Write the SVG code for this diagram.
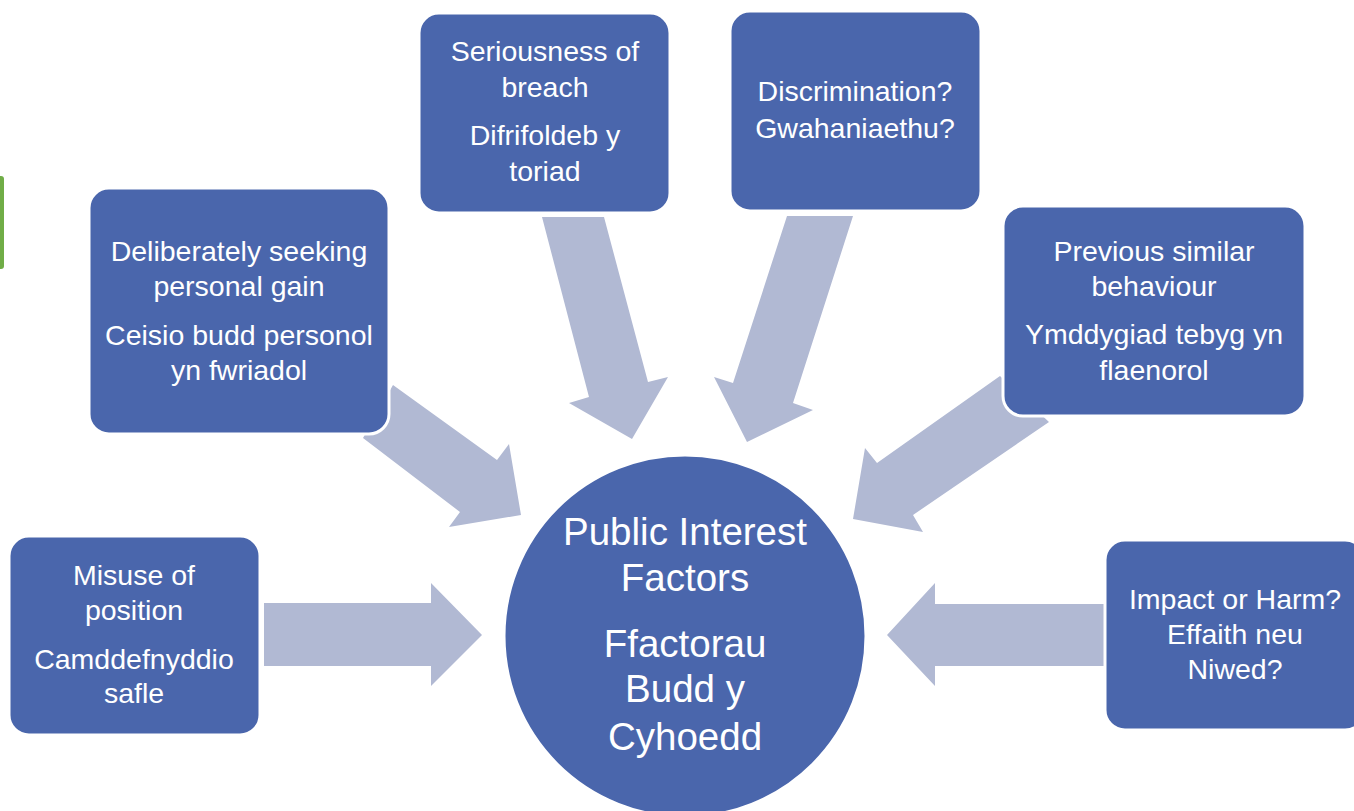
<svg xmlns="http://www.w3.org/2000/svg" width="1354" height="811" viewBox="0 0 1354 811">
<style>
.box{fill:#4a66ac;stroke:#ffffff;stroke-width:3}
.arr{fill:#b1b9d3}
text{font-family:"Liberation Sans",Arial,sans-serif;fill:#ffffff;text-anchor:middle}
.t{font-size:28.5px}
.c{font-size:38.5px}
</style>
<rect width="1354" height="811" fill="#ffffff"/>
<rect x="-6" y="176" width="10" height="93" rx="3" fill="#70ad47"/>
<g id="connectors">
<polygon class="arr" points="264,603 431,603 431,583 482,635 431,686 431,666 264,666"/>
<polygon class="arr" points="1110,604 935,604 935,583 887,635 935,686 935,666 1110,666"/>
<polygon class="arr" points="393,385 497,460 509,444 521,515 449,527 460,512 363,438"/>
<polygon class="arr" points="542,217 604,217 648,382 668,377 632,439 569,403 589,397"/>
<polygon class="arr" points="787,216 853,216 793,403 813,410 747,442 714,377 733,383"/>
<polygon class="arr" points="1000,376 1049,422 913,515 923,532 853,519 865,448 877,463"/>
</g>
<g id="misuse">
<rect class="box" x="9" y="536" width="251" height="199" rx="20"/>
<text class="t" x="134" y="585">Misuse of</text>
<text class="t" x="134" y="620">position</text>
<text class="t" x="134" y="669">Camddefnyddio</text>
<text class="t" x="134" y="703">safle</text>
</g>
<g id="deliberately">
<rect class="box" x="89" y="188" width="300" height="246" rx="20"/>
<text class="t" x="239" y="261">Deliberately seeking</text>
<text class="t" x="239" y="296">personal gain</text>
<text class="t" x="239" y="345">Ceisio budd personol</text>
<text class="t" x="239" y="380">yn fwriadol</text>
</g>
<g id="seriousness">
<rect class="box" x="419" y="13" width="251" height="200" rx="20"/>
<text class="t" x="545" y="61">Seriousness of</text>
<text class="t" x="545" y="97">breach</text>
<text class="t" x="545" y="145">Difrifoldeb y</text>
<text class="t" x="545" y="181">toriad</text>
</g>
<g id="discrimination">
<rect class="box" x="730" y="11" width="251" height="200" rx="20"/>
<text class="t" x="855" y="101">Discrimination?</text>
<text class="t" x="855" y="138">Gwahaniaethu?</text>
</g>
<g id="previous">
<rect class="box" x="1003" y="206" width="302" height="210" rx="20"/>
<text class="t" x="1154" y="261">Previous similar</text>
<text class="t" x="1154" y="296">behaviour</text>
<text class="t" x="1154" y="344">Ymddygiad tebyg yn</text>
<text class="t" x="1154" y="380">flaenorol</text>
</g>
<g id="impact">
<rect class="box" x="1105" y="540" width="260" height="190" rx="20"/>
<text class="t" x="1235" y="609">Impact or Harm?</text>
<text class="t" x="1235" y="644">Effaith neu</text>
<text class="t" x="1235" y="679">Niwed?</text>
</g>
<g id="center">
<circle cx="685" cy="636" r="181" fill="#4a66ac" stroke="#ffffff" stroke-width="3"/>
<text class="c" x="685" y="545">Public Interest</text>
<text class="c" x="685" y="591">Factors</text>
<text class="c" x="685" y="657">Ffactorau</text>
<text class="c" x="685" y="702">Budd y</text>
<text class="c" x="685" y="750">Cyhoedd</text>
</g>
</svg>
